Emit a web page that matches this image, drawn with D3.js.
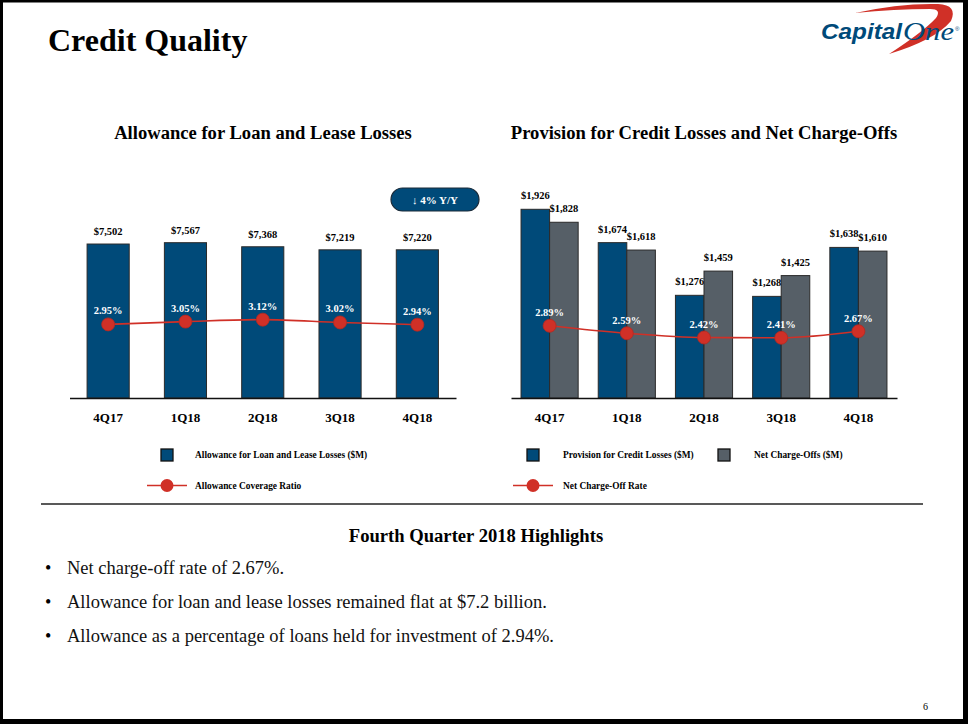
<!DOCTYPE html>
<html>
<head>
<meta charset="utf-8">
<script src="https://cdn.jsdelivr.net/npm/d3@7/dist/d3.min.js"></script>
<style>
  html, body { margin: 0; padding: 0; background: #fff; }
  svg { display: block; font-family: "Liberation Serif", "Times New Roman", serif; }
</style>
</head>
<body>
<svg id="chart" width="968" height="724"></svg>
<script>
// ---------- data ----------
const quarters = ["4Q17", "1Q18", "2Q18", "3Q18", "4Q18"];
const allowance = [7502, 7567, 7368, 7219, 7220];
const coverageRatio = [2.95, 3.05, 3.12, 3.02, 2.94];
const provision = [1926, 1674, 1276, 1268, 1638];
const netChargeOffs = [1828, 1618, 1459, 1425, 1610];
const chargeOffRate = [2.89, 2.59, 2.42, 2.41, 2.67];
const highlights = [
  "Net charge-off rate of 2.67%.",
  "Allowance for loan and lease losses remained flat at $7.2 billion.",
  "Allowance as a percentage of loans held for investment of 2.94%."
];

// ---------- styles ----------
const NAVY = "#004a79", GRAY = "#565f67", RED = "#d03027", DARK = "#2a2a2a";
const SERIF = "'Liberation Serif', 'Times New Roman', serif";
const SANS = "'Liberation Sans', Arial, sans-serif";
const money = v => "$" + d3.format(",")(v);
const pct = v => d3.format(".2f")(v) + "%";

const svg = d3.select("#chart");

// page title
svg.append("text").attr("x", 48).attr("y", 51)
  .attr("font-size", 32).attr("font-weight", "bold").attr("fill", "#000")
  .text("Credit Quality");

// logo
const logo = svg.append("g");
logo.append("path")
  .attr("d", "M855 13 Q900 3 938 4 Q958 5 951 21 Q935 40 889 54 Q923 32 936 18 Q942 9 930 9 Q895 9 855 13 Z")
  .attr("fill", RED);
logo.append("text").attr("x", 821).attr("y", 39)
  .style("font-family", SANS)
  .attr("font-size", 22).attr("font-weight", "bold").attr("font-style", "italic")
  .attr("fill", NAVY).attr("textLength", 81).attr("lengthAdjust", "spacingAndGlyphs")
  .text("Capital");
logo.append("text").attr("x", 903).attr("y", 40)
  .style("font-family", SERIF)
  .attr("font-size", 26).attr("font-style", "italic")
  .attr("fill", NAVY).attr("textLength", 51).attr("lengthAdjust", "spacingAndGlyphs")
  .text("One");
logo.append("text").attr("x", 955).attr("y", 31)
  .style("font-family", SANS)
  .attr("font-size", 6).attr("fill", NAVY).text("®");

// chart titles
svg.append("text").attr("x", 263).attr("y", 139).attr("text-anchor", "middle")
  .attr("font-size", 18.6).attr("font-weight", "bold").text("Allowance for Loan and Lease Losses");
svg.append("text").attr("x", 704).attr("y", 139).attr("text-anchor", "middle")
  .attr("font-size", 18.6).attr("font-weight", "bold").text("Provision for Credit Losses and Net Charge-Offs");

// ---------- left chart ----------
const baseY = 398;
const xL = d3.scaleBand().domain(quarters).range([69.5, 456]).padding(0);
const yL = d3.scaleLinear().domain([0, 8000]).range([baseY, baseY - 164.2]);
const rL = d3.scaleLinear().domain([0, 4]).range([407, 295]);
const barWL = xL.bandwidth() * 0.545;

const gL = svg.append("g");
gL.selectAll("rect.bar").data(allowance).join("rect")
  .attr("class", "bar")
  .attr("x", (d, i) => xL(quarters[i]) + xL.bandwidth() / 2 - barWL / 2)
  .attr("y", d => yL(d))
  .attr("width", barWL)
  .attr("height", d => baseY - yL(d))
  .attr("fill", NAVY).attr("stroke", DARK).attr("stroke-width", 1);
gL.selectAll("text.val").data(allowance).join("text")
  .attr("class", "val")
  .attr("x", (d, i) => xL(quarters[i]) + xL.bandwidth() / 2)
  .attr("y", d => yL(d) - 9)
  .attr("text-anchor", "middle").attr("font-size", 10.5).attr("font-weight", "bold")
  .text(money);

const axL = gL.append("g").attr("transform", `translate(0,${baseY})`)
  .call(d3.axisBottom(xL).tickSize(0).tickPadding(15));
axL.select(".domain").attr("stroke", "#111").attr("stroke-width", 1.5);
axL.selectAll("text").style("font-family", SERIF)
  .attr("font-size", 13).attr("font-weight", "bold").attr("fill", "#000");

const lineL = d3.line()
  .x((d, i) => xL(quarters[i]) + xL.bandwidth() / 2)
  .y(d => rL(d)).curve(d3.curveMonotoneX);
gL.append("path").datum(coverageRatio).attr("d", lineL)
  .attr("fill", "none").attr("stroke", RED).attr("stroke-width", 1.6);
gL.selectAll("circle").data(coverageRatio).join("circle")
  .attr("cx", (d, i) => xL(quarters[i]) + xL.bandwidth() / 2)
  .attr("cy", d => rL(d)).attr("r", 6.5)
  .attr("fill", RED).attr("stroke", "#b8281f").attr("stroke-width", 0.8);
gL.selectAll("text.pct").data(coverageRatio).join("text")
  .attr("class", "pct")
  .attr("x", (d, i) => xL(quarters[i]) + xL.bandwidth() / 2)
  .attr("y", d => rL(d) - 10)
  .attr("text-anchor", "middle").attr("font-size", 10.5).attr("font-weight", "bold")
  .attr("fill", "#fff").text(pct);

// Y/Y badge
svg.append("rect").attr("x", 391).attr("y", 188).attr("width", 88).attr("height", 23)
  .attr("rx", 11.5).attr("fill", NAVY).attr("stroke", "#1b2a38").attr("stroke-width", 1.2);
svg.append("text").attr("x", 435).attr("y", 203.5).attr("text-anchor", "middle")
  .attr("font-size", 11).attr("font-weight", "bold").attr("fill", "#fff")
  .text("↓ 4% Y/Y");

// ---------- right chart ----------
const xR = d3.scaleBand().domain(quarters).range([511, 897]).padding(0);
const seriesKeys = ["provision", "nco"];
const seriesVals = { provision: provision, nco: netChargeOffs };
const seriesCols = { provision: NAVY, nco: GRAY };
const pairW = xR.bandwidth() * 0.74;
const x1 = d3.scaleBand().domain(seriesKeys).range([0, pairW]).padding(0);
const yR = d3.scaleLinear().domain([500, 2000]).range([baseY, baseY - 198.5]);
const rR = d3.scaleLinear().domain([0, 4]).range([baseY, baseY - 100]);

const gR = svg.append("g");
seriesKeys.forEach(k => {
  const vals = seriesVals[k];
  const bx = i => xR(quarters[i]) + xR.bandwidth() / 2 - pairW / 2 + x1(k);
  gR.selectAll("rect.bar-" + k).data(vals).join("rect")
    .attr("class", "bar-" + k)
    .attr("x", (d, i) => bx(i))
    .attr("y", d => yR(d))
    .attr("width", x1.bandwidth())
    .attr("height", d => baseY - yR(d))
    .attr("fill", seriesCols[k]).attr("stroke", DARK).attr("stroke-width", 1);
  gR.selectAll("text.val-" + k).data(vals).join("text")
    .attr("class", "val-" + k)
    .attr("x", (d, i) => bx(i) + x1.bandwidth() / 2)
    .attr("y", d => yR(d) - 10)
    .attr("text-anchor", "middle").attr("font-size", 10.5).attr("font-weight", "bold")
    .text(money);
});

const axR = gR.append("g").attr("transform", `translate(0,${baseY})`)
  .call(d3.axisBottom(xR).tickSize(0).tickPadding(15));
axR.select(".domain").attr("stroke", "#111").attr("stroke-width", 1.5);
axR.selectAll("text").style("font-family", SERIF)
  .attr("font-size", 13).attr("font-weight", "bold").attr("fill", "#000");

const lineR = d3.line()
  .x((d, i) => xR(quarters[i]) + xR.bandwidth() / 2)
  .y(d => rR(d)).curve(d3.curveMonotoneX);
gR.append("path").datum(chargeOffRate).attr("d", lineR)
  .attr("fill", "none").attr("stroke", RED).attr("stroke-width", 1.6);
gR.selectAll("circle").data(chargeOffRate).join("circle")
  .attr("cx", (d, i) => xR(quarters[i]) + xR.bandwidth() / 2)
  .attr("cy", d => rR(d)).attr("r", 6.5)
  .attr("fill", RED).attr("stroke", "#b8281f").attr("stroke-width", 0.8);
gR.selectAll("text.pct").data(chargeOffRate).join("text")
  .attr("class", "pct")
  .attr("x", (d, i) => xR(quarters[i]) + xR.bandwidth() / 2)
  .attr("y", d => rR(d) - 9.5)
  .attr("text-anchor", "middle").attr("font-size", 10.5).attr("font-weight", "bold")
  .attr("fill", "#fff").text(pct);

// ---------- legends ----------
function legendSquare(x, y, color, label, tx) {
  svg.append("rect").attr("x", x).attr("y", y).attr("width", 12).attr("height", 12)
    .attr("fill", color).attr("stroke", "#111").attr("stroke-width", 1.3);
  svg.append("text").attr("x", tx).attr("y", y + 9).attr("font-size", 9.4)
    .attr("font-weight", "bold").text(label);
}
function legendLine(x1_, x2_, y, label, tx) {
  svg.append("line").attr("x1", x1_).attr("x2", x2_).attr("y1", y).attr("y2", y)
    .attr("stroke", RED).attr("stroke-width", 1.6);
  svg.append("circle").attr("cx", (x1_ + x2_) / 2).attr("cy", y).attr("r", 6.5).attr("fill", RED);
  svg.append("text").attr("x", tx).attr("y", y + 3.5).attr("font-size", 9.4)
    .attr("font-weight", "bold").text(label);
}
legendSquare(161, 449, NAVY, "Allowance for Loan and Lease Losses ($M)", 195);
legendLine(147, 187, 485.5, "Allowance Coverage Ratio", 195);
legendSquare(527, 449, NAVY, "Provision for Credit Losses ($M)", 563);
legendSquare(718, 449, GRAY, "Net Charge-Offs ($M)", 754);
legendLine(513, 553, 485.5, "Net Charge-Off Rate", 563);

// separator
svg.append("line").attr("x1", 41).attr("x2", 923).attr("y1", 504).attr("y2", 504)
  .attr("stroke", "#222").attr("stroke-width", 1.5);

// highlights
svg.append("text").attr("x", 476).attr("y", 542).attr("text-anchor", "middle")
  .attr("font-size", 18.6).attr("font-weight", "bold").text("Fourth Quarter 2018 Highlights");
const hl = svg.append("g");
hl.selectAll("text.bul").data(highlights).join("text").attr("class", "bul")
  .attr("x", 45).attr("y", (d, i) => 574 + i * 34).attr("font-size", 18).text("•");
hl.selectAll("text.hl").data(highlights).join("text").attr("class", "hl")
  .attr("x", 67).attr("y", (d, i) => 574 + i * 34).attr("font-size", 18.5).attr("fill", "#111")
  .text(d => d);

// page number
svg.append("text").attr("x", 923).attr("y", 710).attr("font-size", 10).text("6");

// frame
svg.append("rect").attr("x", 0).attr("y", 0).attr("width", 968).attr("height", 2.5).attr("fill", "#000");
svg.append("rect").attr("x", 0).attr("y", 0).attr("width", 3).attr("height", 724).attr("fill", "#000");
svg.append("rect").attr("x", 963).attr("y", 0).attr("width", 5).attr("height", 724).attr("fill", "#000");
svg.append("rect").attr("x", 0).attr("y", 719).attr("width", 968).attr("height", 5).attr("fill", "#000");
</script>
</body>
</html>
